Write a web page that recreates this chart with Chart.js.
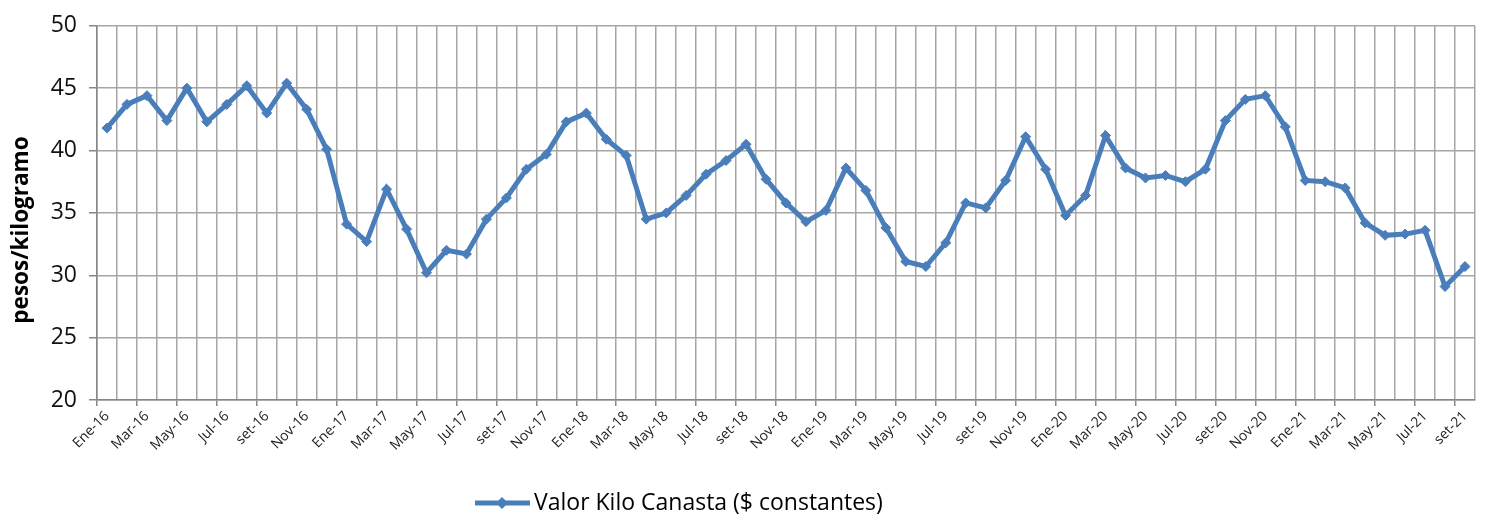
<!DOCTYPE html>
<html>
<head>
<meta charset="utf-8">
<script src="https://cdn.jsdelivr.net/npm/chart.js@4.4.1/dist/chart.umd.min.js"></script>
<style>
    html, body { margin: 0; padding: 0; background: #fff; }
    #wrap { width: 1485px; height: 515px; position: relative; }
</style>
</head>
<body>
<div id="wrap"><canvas id="canasta-chart"></canvas></div>
<script>
// months shown on the axis (Spanish abbreviations, as in the source)
const monthNames = ['Ene', 'Feb', 'Mar', 'Abr', 'May', 'Jun', 'Jul', 'Ago', 'set', 'Oct', 'Nov', 'Dic'];
const years = ['16', '17', '18', '19', '20', '21'];
const lastYearMonths = 9; // data stops at set-21

const monthLabels = [];
years.forEach((yy, yi) => {
    const n = yi === years.length - 1 ? lastYearMonths : 12;
    for (let m = 0; m < n; m++) monthLabels.push(monthNames[m] + '-' + yy);
});

// Valor Kilo Canasta ($ constantes), pesos/kilogramo
const values2016 = [41.8, 43.7, 44.4, 42.4, 45.0, 42.3, 43.7, 45.2, 43.0, 45.4, 43.3, 40.1];
const values2017 = [34.1, 32.7, 36.9, 33.7, 30.2, 32.0, 31.7, 34.5, 36.2, 38.5, 39.7, 42.3];
const values2018 = [43.0, 40.9, 39.6, 34.5, 35.0, 36.4, 38.1, 39.2, 40.5, 37.7, 35.8, 34.3];
const values2019 = [35.2, 38.6, 36.8, 33.8, 31.1, 30.7, 32.6, 35.8, 35.4, 37.6, 41.1, 38.5];
const values2020 = [34.8, 36.4, 41.2, 38.6, 37.8, 38.0, 37.5, 38.5, 42.4, 44.1, 44.4, 41.9];
const values2021 = [37.6, 37.5, 37.0, 34.2, 33.2, 33.3, 33.6, 29.1, 30.7];

const kiloValues = [].concat(values2016, values2017, values2018, values2019, values2020, values2021);

const yTicks = { min: 20, max: 50, step: 5 };
const seriesName = 'Valor Kilo Canasta ($ constantes)';
const yTitle = 'pesos/kilogramo';

const lineColor = '#4a7ebb';
const gridColor = '#a6a6a6';
const axisColor = '#868686';

// ====== LEGEND + Y TITLE (drawn by hand to sit where Excel put them) ======
const extraText = {
    id: 'extraText',
    afterDraw(chart) {
        const c = chart.ctx;
        const y = 503;
        c.save();
        c.strokeStyle = lineColor;
        c.lineWidth = 5;
        c.beginPath();
        c.moveTo(475, y);
        c.lineTo(530, y);
        c.stroke();
        c.fillStyle = lineColor;
        c.beginPath();
        c.moveTo(502, y - 6);
        c.lineTo(508, y);
        c.lineTo(502, y + 6);
        c.lineTo(496, y);
        c.closePath();
        c.fill();
        c.fillStyle = '#000';
        c.font = '23px "Open Sans"';
        c.textBaseline = 'middle';
        c.textAlign = 'left';
        c.fillText(seriesName, 534, y);

        // vertical axis title
        c.translate(22, 230);
        c.rotate(-Math.PI / 2);
        c.font = 'bold 22.5px "Open Sans"';
        c.textAlign = 'center';
        c.fillText(yTitle, 0, 0);
        c.restore();
    }
};

const ctx = document.getElementById('canasta-chart');
new Chart(ctx, {
    type: 'line',
    data: {
        labels: monthLabels,
        datasets: [{
            label: seriesName,
            data: kiloValues,
            borderColor: lineColor,
            backgroundColor: lineColor,
            borderWidth: 5,
            tension: 0,
            fill: false,
            pointStyle: 'rectRot',
            pointRadius: 5,
            pointBackgroundColor: lineColor,
            pointBorderColor: lineColor,
            pointBorderWidth: 1
        }]
    },
    options: {
        responsive: true,
        maintainAspectRatio: false,
        animation: false,
        layout: { padding: { top: 21, right: 10, bottom: 0, left: 0 } },
        plugins: {
            legend: { display: false },
            tooltip: { enabled: false }
        },
        scales: {
            x: {
                offset: true,
                grid: {
                    offset: true,
                    color: gridColor,
                    lineWidth: 1.5,
                    tickLength: 6,
                    tickColor: c => (c.index % 2 === 0 ? axisColor : 'rgba(0,0,0,0)')
                },
                border: { color: axisColor, width: 1.5 },
                ticks: {
                    autoSkip: false,
                    minRotation: 45,
                    maxRotation: 45,
                    padding: 2,
                    color: '#222',
                    font: { family: '"Open Sans"', size: 14 },
                    callback: function (value, index) {
                        return index % 2 === 0 ? this.getLabelForValue(value) : '';
                    }
                },
                afterFit: scale => { scale.height = 115; }
            },
            y: {
                min: yTicks.min,
                max: yTicks.max,
                grid: {
                    color: gridColor,
                    lineWidth: 1.5,
                    tickLength: 8,
                    tickColor: axisColor
                },
                border: { color: axisColor, width: 1.5 },
                ticks: {
                    stepSize: yTicks.step,
                    padding: 12,
                    color: '#111',
                    font: { family: '"Open Sans"', size: 23 }
                },
                afterFit: scale => { scale.width = 97; }
            }
        }
    },
    plugins: [extraText]
});
</script>
</body>
</html>
